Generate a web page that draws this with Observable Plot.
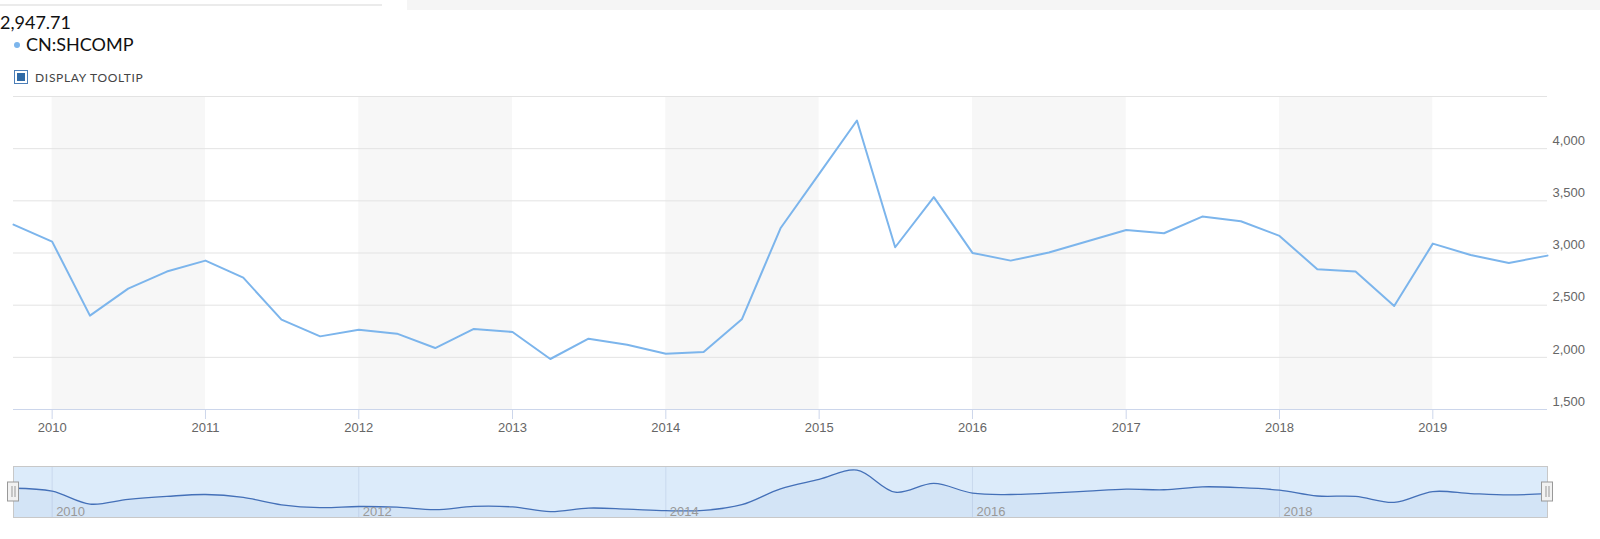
<!DOCTYPE html>
<html>
<head>
<meta charset="utf-8">
<script src="https://cdn.jsdelivr.net/npm/d3@7"></script>
<script src="https://cdn.jsdelivr.net/npm/@observablehq/plot@0.6"></script>
<style>
  html, body { margin: 0; padding: 0; background: #fff; }
  #wrap { position: relative; width: 1600px; height: 539px; overflow: hidden; font-family: Lato, "Open Sans", sans-serif; }
  .topline { position: absolute; left: 0; top: 4px; width: 382px; height: 2px; background: #ebebeb; }
  .topbox { position: absolute; left: 407px; top: 0; width: 1193px; height: 10px; background: #f5f5f5; }
  .price { position: absolute; left: 0; top: 12px; font-size: 18px; line-height: 20px; color: #111; }
  .legend { position: absolute; left: 14px; top: 34px; font-size: 18px; line-height: 20px; color: #111; white-space: nowrap; }
  .legend .dot { display: inline-block; width: 6px; height: 6px; border-radius: 50%; background: #7cb5ec; margin-right: 6px; vertical-align: 3px; }
  .tip { position: absolute; left: 14px; top: 70px; font-size: 12px; line-height: 14px; color: #444; letter-spacing: 0.7px; white-space: nowrap; }
  .tip .cb { display: inline-block; box-sizing: border-box; width: 14px; height: 14px; border: 1px solid #4d7fb8; vertical-align: -2px; margin-right: 7px; position: relative; }
  .tip .cb span { position: absolute; left: 2px; top: 2px; width: 8px; height: 8px; background: #2f6aa6; }
  #main { position: absolute; left: 0; top: 0; }
  #nav { position: absolute; left: 0; top: 455px; }
  svg { display: block; }
</style>
</head>
<body>
<div id="wrap">
  <div class="topline"></div>
  <div class="topbox"></div>
  <div id="main"></div>
  <div id="nav"></div>
  <div class="price">2,947.71</div>
  <div class="legend"><span class="dot"></span>CN:SHCOMP</div>
  <div class="tip"><span class="cb"><span></span></span>DISPLAY TOOLTIP</div>
</div>
<script>
// Quarterly observations (CN:SHCOMP)
const quarters = [
  "2009-10-01",
  "2010-01-01","2010-04-01","2010-07-01","2010-10-01",
  "2011-01-01","2011-04-01","2011-07-01","2011-10-01",
  "2012-01-01","2012-04-01","2012-07-01","2012-10-01",
  "2013-01-01","2013-04-01","2013-07-01","2013-10-01",
  "2014-01-01","2014-04-01","2014-07-01","2014-10-01",
  "2015-01-01","2015-04-01","2015-07-01","2015-10-01",
  "2016-01-01","2016-04-01","2016-07-01","2016-10-01",
  "2017-01-01","2017-04-01","2017-07-01","2017-10-01",
  "2018-01-01","2018-04-01","2018-07-01","2018-10-01",
  "2019-01-01","2019-04-01","2019-07-01","2019-10-01"
];
const values = [
  3272,
  3109, 2400, 2659, 2822,
  2927, 2764, 2361, 2201,
  2265, 2227, 2089, 2272,
  2243, 1984, 2179, 2121,
  2035, 2051, 2364, 3237,
  3758, 4270, 3055, 3535,
  3001, 2927, 3004, 3113,
  3221, 3189, 3349, 3304,
  3164, 2844, 2822, 2492,
  3090, 2981, 2905, 2975
];
const yearTicks = ["2010","2011","2012","2013","2014","2015","2016","2017","2018","2019"];
const navTicks = ["2010","2012","2014","2016","2018"];
const bandYears = ["2010","2012","2014","2016","2018"];
const yGrid = [1500, 2000, 2500, 3000, 3500, 4000, 4500];
const yLabels = [1500, 2000, 2500, 3000, 3500, 4000];

const parse = d3.utcParse("%Y-%m-%d");
const py = d3.utcParse("%Y");
const data = quarters.map((q, i) => ({date: parse(q), value: values[i]}));
const xDomain = [parse(quarters[0]), parse(quarters[quarters.length - 1])];

const main = Plot.plot({
  width: 1600, height: 440,
  marginTop: 96, marginBottom: 31, marginLeft: 13, marginRight: 53,
  x: {type: "utc", domain: xDomain},
  y: {domain: [1500, 4500]},
  style: {fontFamily: "'Liberation Sans', Arial, sans-serif", fontSize: "13px", background: "transparent", overflow: "visible"},
  marks: [
    Plot.rect(bandYears, {x1: d => py(d), x2: d => d3.utcYear.offset(py(d), 1), fill: "#f7f7f7"}),
    Plot.ruleY(yGrid, {stroke: "#e3e3e3", strokeWidth: 1}),
    Plot.ruleY([1500], {stroke: "#ccd6eb", strokeWidth: 1}),
    Plot.axisY(yLabels, {anchor: "right", tickSize: 0, tickPadding: 5, dy: -8, tickFormat: d3.format(","), fill: "#666", fontSize: 13, label: null}),
    Plot.axisX(yearTicks.map(py), {anchor: "bottom", tickSize: 10, tickPadding: 3, stroke: "#ccd6eb", fill: "#666", fontSize: 13, tickFormat: d3.utcFormat("%Y"), label: null}),
    Plot.lineY(data, {x: "date", y: "value", stroke: "#7cb5ec", strokeWidth: 2})
  ]
});
document.getElementById("main").appendChild(main);

const navMin = 1660, navMax = 4470;
const nav = Plot.plot({
  width: 1600, height: 84,
  marginTop: 11, marginBottom: 22, marginLeft: 13, marginRight: 53,
  x: {type: "utc", domain: xDomain, axis: null},
  y: {domain: [navMin, navMax], axis: null},
  style: {fontFamily: "'Liberation Sans', Arial, sans-serif", fontSize: "13px", background: "transparent", overflow: "visible"},
  marks: [
    Plot.rect([xDomain], {x1: d => d[0], x2: d => d[1], fill: "#7cb5ec", fillOpacity: 0.27}),
    Plot.ruleX(navTicks.map(py), {stroke: "#c9d9ee"}),
    Plot.areaY(data, {x: "date", y1: () => navMin, y2: "value", curve: "catmull-rom", fill: "#335cad", fillOpacity: 0.05}),
    Plot.lineY(data, {x: "date", y: "value", curve: "catmull-rom", stroke: "#4470b8", strokeWidth: 1.3}),
    Plot.text(navTicks.map(py), {x: d => d, text: d => d3.utcFormat("%Y")(d), frameAnchor: "bottom", textAnchor: "start", lineAnchor: "bottom", dx: 4, dy: -2, fill: "#999", fontSize: 13}),
    Plot.frame({stroke: "#c8c8c8"}),
    Plot.rect(xDomain, {x1: d => d, x2: d => d, insetLeft: -5.5, insetRight: -5.5, insetTop: 16, insetBottom: 16, fill: "#f2f2f2", stroke: "#999999"}),
    Plot.ruleX(xDomain, {x: d => d, dx: -1.5, insetTop: 20, insetBottom: 20, stroke: "#999999"}),
    Plot.ruleX(xDomain, {x: d => d, dx: 1.5, insetTop: 20, insetBottom: 20, stroke: "#999999"})
  ]
});
document.getElementById("nav").appendChild(nav);
</script>
</body>
</html>
